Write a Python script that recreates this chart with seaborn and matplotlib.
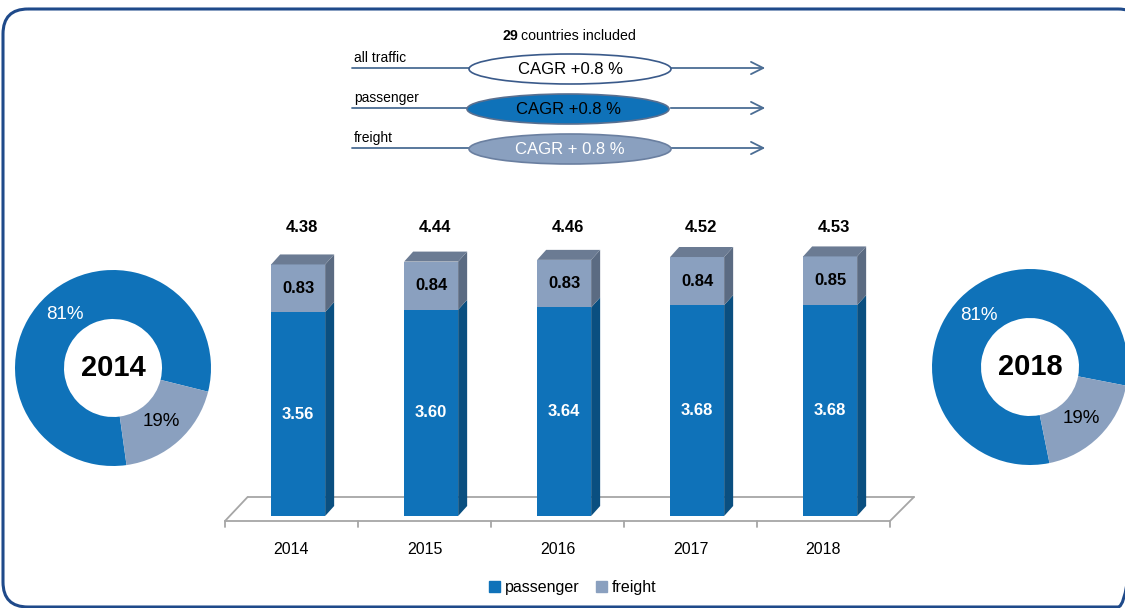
import numpy as np
import pandas as pd
import seaborn as sns
import matplotlib.pyplot as plt
from matplotlib.patches import Polygon, Ellipse, FancyBboxPatch, Patch

# data
years = ['2014', '2015', '2016', '2017', '2018']
passenger = [3.56, 3.60, 3.64, 3.68, 3.68]
freight = [0.83, 0.84, 0.83, 0.84, 0.85]
totals = [4.38, 4.44, 4.46, 4.52, 4.53]
segments = ['all traffic', 'passenger', 'freight']
cagr = [0.8, 0.8, 0.8]
n_countries = 29
donut_years = ['2014', '2018']

PASS = '#0f72b9'
FRT = '#8aa0bf'
PASS_SIDE = '#0a4f80'
FRT_SIDE = '#5b6b82'
TOP = '#6b7b93'
BORDER = '#1f4a8a'
LINE = '#4b6d94'
FLOOR = '#a6a6a6'

sns.set_style('white')
plt.rcParams['font.family'] = ['Liberation Sans', 'DejaVu Sans']
plt.rcParams['text.color'] = 'black'
plt.rcParams['xtick.color'] = 'black'

df = pd.DataFrame({'year': years, 'passenger': passenger, 'freight': freight})
df['stack'] = df.passenger + df.freight

fig = plt.figure(figsize=(11.25, 6.08), dpi=100)

# background axes in pixel units for frame and CAGR box
bg = fig.add_axes([0, 0, 1, 1])
bg.set_xlim(0, 1125)
bg.set_ylim(608, 0)
bg.axis('off')
bg.add_patch(FancyBboxPatch((3, 9), 1140, 598, boxstyle='round,pad=0,rounding_size=25',
                            fill=False, ec=BORDER, lw=2.2))

bg.text(518, 36, str(n_countries), ha='right', va='center', fontsize=10.2, fontweight='bold')
bg.text(521, 36, 'countries included', ha='left', va='center', fontsize=10.2)

row_y = [68, 108, 148]
ell_x = [570, 568, 570]
fills = ['white', PASS, FRT]
edges = ['#3a5a8a', '#5a6f8f', '#6a7fa0']
txtc = ['black', 'black', 'white']
for seg, g, y, ex, fc, ec, tc in zip(segments, cagr, row_y, ell_x, fills, edges, txtc):
    bg.plot([352, 470], [y, y], color=LINE, lw=1.3)
    bg.annotate('', xy=(768, y), xytext=(668, y),
                arrowprops=dict(arrowstyle='->', color=LINE, lw=1.3, mutation_scale=22))
    bg.add_patch(Ellipse((ex, y + 1), 202, 30, fc=fc, ec=ec, lw=1.2, zorder=3))
    bg.text(354, y - 10, seg, ha='left', va='center', fontsize=10)
    s = f'CAGR +{g} %' if seg != 'freight' else f'CAGR + {g} %'
    bg.text(ex, y + 1, s, ha='center', va='center', fontsize=12, color=tc, zorder=4)

# bar chart
ax = fig.add_axes([225 / 1125, 92 / 608, 665 / 1125, 286.5 / 608])
ax.patch.set_alpha(0)
W = 0.406
sns.barplot(data=df, x='year', y='stack', color=FRT, width=W, saturation=1, ax=ax, zorder=3)
sns.barplot(data=df, x='year', y='passenger', color=PASS, width=W, saturation=1, ax=ax, zorder=3)
for p in ax.patches:
    p.set_x(p.get_x() + 0.05)
    p.set_linewidth(0)

dx, dy = 9 / 133, 10 / 57.3
for i in range(len(years)):
    x0 = i - W / 2 + 0.05
    x1 = x0 + W
    hp = passenger[i]
    ht = passenger[i] + freight[i]
    ax.add_patch(Polygon([(x1, 0), (x1 + dx, dy), (x1 + dx, hp + dy), (x1, hp)],
                         fc=PASS_SIDE, ec='none', zorder=3))
    ax.add_patch(Polygon([(x1, hp), (x1 + dx, hp + dy), (x1 + dx, ht + dy), (x1, ht)],
                         fc=FRT_SIDE, ec='none', zorder=3))
    ax.add_patch(Polygon([(x0, ht), (x0 + dx, ht + dy), (x1 + dx, ht + dy), (x1, ht)],
                         fc=TOP, ec='none', zorder=3))
    ax.text(i + 0.05, hp / 2, f'{passenger[i]:.2f}', ha='center', va='center',
            color='white', fontsize=12, fontweight='bold', zorder=5)
    ax.text(i + 0.05, hp + freight[i] / 2, f'{freight[i]:.2f}', ha='center', va='center',
            color='black', fontsize=12, fontweight='bold', zorder=5)
    ax.text(i + 0.08, 5.03, f'{totals[i]:.2f}', ha='center', va='center',
            color='black', fontsize=12, fontweight='bold', clip_on=False)

# floor
yf, yb = -5 / 57.3, 19 / 57.3
kw = dict(color=FLOOR, lw=1.3, clip_on=False, zorder=1)
ax.plot([-0.5, 4.5], [yf, yf], **kw)
ax.plot([-0.33, 4.68], [yb, yb], **kw)
ax.plot([-0.5, -0.33], [yf, yb], **kw)
ax.plot([4.5, 4.68], [yf, yb], **kw)
for k in range(len(years) + 1):
    ax.plot([k - 0.5, k - 0.5], [yf, yf - 6 / 57.3], **kw)

ax.set_xlim(-0.5, 4.5)
ax.set_ylim(0, 5)
ax.set_yticks([])
ax.set_xlabel('')
ax.set_ylabel('')
ax.tick_params(axis='x', length=0, pad=19, labelsize=11.5)
sns.despine(ax=ax, left=True, bottom=True)


# donuts
def donut(rect, p, f, year, start):
    a = fig.add_axes(rect)
    wedges, texts, autotexts = a.pie([p, f], colors=[PASS, FRT], startangle=start,
                                     wedgeprops=dict(width=0.5, edgecolor='none'),
                                     autopct='%1.0f%%', pctdistance=0.74,
                                     textprops=dict(fontsize=13.5, color='black'))
    autotexts[0].set_color('white')
    a.text(0, 0, year, ha='center', va='center', fontsize=21, fontweight='bold')
    a.set_xlim(-1, 1)
    a.set_ylim(-1, 1)


donut([15 / 1125, 142 / 608, 196 / 1125, 196 / 608], passenger[0], freight[0], donut_years[0], -14)
donut([932 / 1125, 143 / 608, 196 / 1125, 196 / 608], passenger[-1], freight[-1], donut_years[1], -11)

handles = [Patch(color=PASS), Patch(color=FRT)]
fig.legend(handles, ['passenger', 'freight'], loc='center', bbox_to_anchor=(0.509, 0.033),
           ncol=2, frameon=False, handlelength=0.7, handleheight=0.7, handletextpad=0.3,
           columnspacing=1.0, prop=dict(size=11.5))

fig.savefig('out.png', dpi=100)
